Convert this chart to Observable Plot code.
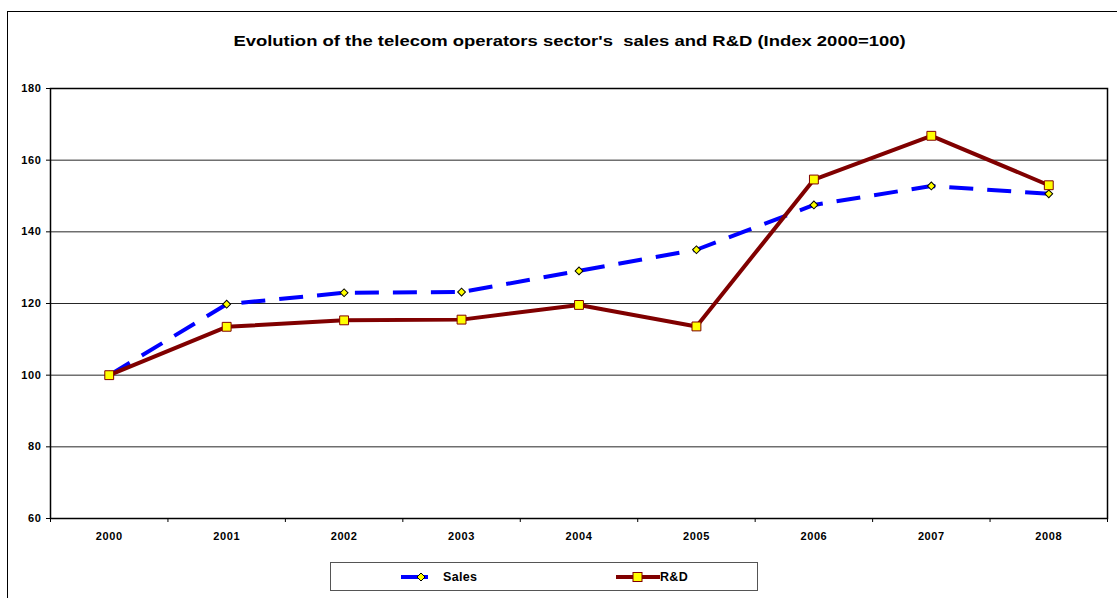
<!DOCTYPE html>
<html>
<head>
<meta charset="utf-8">
<script src="https://cdn.jsdelivr.net/npm/d3@7"></script>
<script src="https://cdn.jsdelivr.net/npm/@observablehq/plot@0.6"></script>
<style>
  html, body { margin: 0; padding: 0; background: #fff; overflow: hidden; }
  #wrap { position: relative; width: 1117px; height: 598px; overflow: hidden; font-family: "Liberation Sans", Arial, sans-serif; }
  #border { position: absolute; left: 7px; top: 11px; width: 1200px; height: 700px; border: 1px solid #000; box-sizing: border-box; }
  #title { position: absolute; left: 0; top: 32px; width: 1139px; text-align: center; font-weight: bold; font-size: 15.5px; white-space: pre; color: #000; transform: scaleX(1.19); transform-origin: 569.5px 0; }
  #chart { position: absolute; left: 0; top: 60px; }
  #legend { position: absolute; left: 330px; top: 562px; width: 428px; height: 29px; border: 1px solid #555; box-sizing: border-box; background: #fff; font-weight: bold; font-size: 12.5px; letter-spacing: 0.3px; }
  .item { position: absolute; top: 0; height: 27px; display: flex; align-items: center; }
  .item svg { display: block; }
</style>
</head>
<body>
<div id="wrap">
  <div id="border"></div>
  <div id="title">Evolution of the telecom operators sector's  sales and R&amp;D (Index 2000=100)</div>
  <div id="chart"></div>
  <div id="legend">
    <div class="item" style="left:70px">
      <svg width="30" height="12"><line x1="0" y1="6" x2="27" y2="6" stroke="#0000FF" stroke-width="4"/><path d="M20,2 L24,6 L20,10 L16,6 Z" fill="#FFFF00" stroke="#000" stroke-width="1"/></svg>
      <span style="margin-left:12px">Sales</span>
    </div>
    <div class="item" style="left:285px">
      <svg width="44" height="14"><line x1="0" y1="7" x2="44" y2="7" stroke="#800000" stroke-width="4"/><rect x="17" y="2.5" width="9" height="9" fill="#FFFF00" stroke="#800000" stroke-width="1"/></svg>
      <span style="margin-left:0px">R&amp;D</span>
    </div>
  </div>
</div>
<script>
const years = [2000, 2001, 2002, 2003, 2004, 2005, 2006, 2007, 2008];
const sales = [100, 119.8, 123.0, 123.2, 129.1, 135.0, 147.5, 152.8, 150.6];
const rd    = [100, 113.5, 115.3, 115.5, 119.6, 113.6, 154.6, 166.8, 153.0];
const yTicks = [60, 80, 100, 120, 140, 160, 180];

const salesData = years.map((y, i) => ({year: y, value: sales[i]}));
const rdData = years.map((y, i) => ({year: y, value: rd[i]}));
const boundaries = d3.range(years.length + 1).map(i => years[0] - 0.5 + i);

const chart = Plot.plot({
  width: 1117,
  height: 500,
  marginTop: 28,
  marginBottom: 42,
  marginLeft: 50,
  marginRight: 10,
  style: {fontFamily: "Liberation Sans, Arial, sans-serif", fontSize: "11px", fontWeight: "bold", letterSpacing: "0.6px", color: "#000", background: "transparent"},
  x: {type: "linear", domain: [years[0] - 0.5, years[years.length - 1] + 0.5]},
  y: {domain: [60, 180]},
  marks: [
    Plot.gridY(yTicks, {stroke: "#000", strokeOpacity: 0.85, strokeWidth: 1}),
    Plot.frame({stroke: "#000", strokeWidth: 1.5}),
    Plot.axisY({ticks: yTicks, tickSize: 4, tickPadding: 5, tickFormat: d => String(d), label: null}),
    Plot.axisX({ticks: boundaries, tickSize: 4, tickFormat: () => "", label: null}),
    Plot.axisX({ticks: years, tickSize: 0, tickPadding: 14, tickFormat: d => String(d), label: null}),
    Plot.line(salesData, {x: "year", y: "value", stroke: "#0000FF", strokeWidth: 4, strokeDasharray: "24,14", strokeLinecap: "butt"}),
    Plot.line(rdData, {x: "year", y: "value", stroke: "#800000", strokeWidth: 4}),
    Plot.dot(salesData, {x: "year", y: "value", symbol: "square", rotate: 45, r: 3.1, fill: "#FFFF00", stroke: "#000", strokeWidth: 1}),
    Plot.dot(rdData, {x: "year", y: "value", symbol: "square", r: 5, fill: "#FFFF00", stroke: "#800000", strokeWidth: 1})
  ]
});
document.getElementById("chart").appendChild(chart);
</script>
</body>
</html>
